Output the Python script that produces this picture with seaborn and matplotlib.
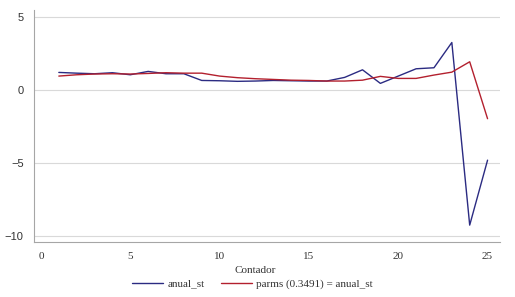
import pandas as pd
import numpy as np
import matplotlib
matplotlib.use("Agg")
import matplotlib.pyplot as plt
import seaborn as sns

# ---------------------------------------------
# Data
# ---------------------------------------------
contador = list(range(1, 26))
anual_st = [1.21, 1.16, 1.12, 1.19, 1.05, 1.28, 1.12, 1.12, 0.66, 0.64,
            0.60, 0.62, 0.66, 0.64, 0.62, 0.62, 0.87, 1.39, 0.46, 0.96,
            1.46, 1.53, 3.26, -9.25, -4.80]
parms = [0.96, 1.05, 1.10, 1.12, 1.10, 1.14, 1.19, 1.16, 1.16, 0.96,
         0.85, 0.78, 0.73, 0.68, 0.66, 0.62, 0.62, 0.68, 0.94, 0.80,
         0.80, 1.03, 1.23, 1.94, -1.96]

df = pd.DataFrame({
    "Contador": contador * 2,
    "valor": anual_st + parms,
    "serie": ["anual_st"] * 25 + ["parms (0.3491) = anual_st"] * 25,
})

# ---------------------------------------------
# Style
# ---------------------------------------------
sns.set_style("white")
serif = ["Liberation Serif", "DejaVu Serif"]
sans = ["Liberation Sans", "DejaVu Sans"]

fig = plt.figure(figsize=(5.15, 2.97), dpi=100)
ax = fig.add_axes([0.066, 0.185, 0.905, 0.781])

sns.lineplot(data=df, x="Contador", y="valor", hue="serie",
             palette=["#2b2b82", "#b3202e"], linewidth=1.0, ax=ax,
             legend=False)

ax.set_xlim(-0.39, 25.7)
ax.set_ylim(-10.41, 5.48)
ax.set_xticks([0, 5, 10, 15, 20, 25])
ax.set_yticks([5, 0, -5, -10])
ax.yaxis.grid(True, color="#d9d9d9", linewidth=0.8)
ax.set_axisbelow(True)

for s in ["top", "right"]:
    ax.spines[s].set_visible(False)
for s in ["left", "bottom"]:
    ax.spines[s].set_color("#a6a6a6")
    ax.spines[s].set_linewidth(0.8)

ax.tick_params(axis="both", direction="out", length=4, width=0.8,
               color="#a6a6a6", labelcolor="#333333", labelsize=8)
for lab in ax.get_xticklabels():
    lab.set_family(serif)
for lab in ax.get_yticklabels():
    lab.set_family(sans)

ax.set_xlabel("")
ax.set_ylabel("")
fig.text(0.495, 0.09, "Contador", ha="center", va="center",
         family=serif, fontsize=8, color="#333333")

handles = [plt.Line2D([], [], color="#2b2b82", linewidth=1.0),
           plt.Line2D([], [], color="#b3202e", linewidth=1.0)]
fig.legend(handles, ["anual_st", "parms (0.3491) = anual_st"],
           loc="center", bbox_to_anchor=(0.49, 0.045), ncol=2,
           frameon=False, prop={"family": serif, "size": 8},
           handlelength=2.8, columnspacing=1.5, handletextpad=0.4,
           labelcolor="#333333")

plt.savefig("out.png", dpi=100)
